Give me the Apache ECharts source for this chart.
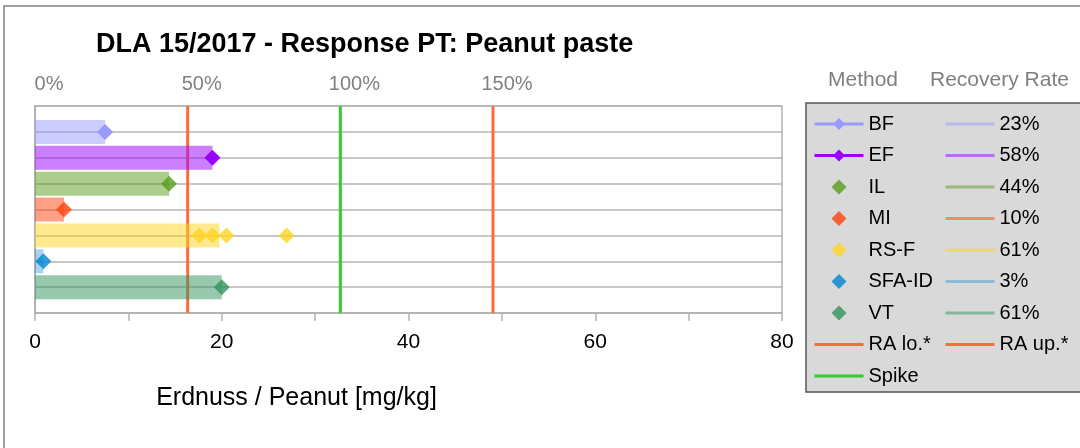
<!DOCTYPE html>
<html>
    <head>
        <meta charset="utf-8">
        <script src="https://cdn.jsdelivr.net/npm/echarts@6/dist/echarts.min.js"></script>
    </head>
    <body style="margin:0">
        <style>
            html, body, #main {
                width: 1080px;
                height: 448px;
                background: #fff;
            }
        </style>
        <div id="main"></div>
        <script>
            // methods, one row each (row 7 at the top)
            var methods = ['BF', 'EF', 'IL', 'MI', 'RS-F', 'SFA-ID', 'VT'];
            var rows = [7, 6, 5, 4, 3, 2, 1];
            // single results in mg/kg
            var results = [
                [7.5],
                [19.0],
                [14.35],
                [3.1],
                [17.6, 19.0, 20.5, 26.95],
                [0.9],
                [20.0]
            ];
            // recovery bar length (mg/kg) and its label
            var recoveryValues = [7.5, 19.0, 14.35, 3.1, 19.75, 0.9, 20.0];
            var recoveryLabels = ['23%', '58%', '44%', '10%', '61%', '3%', '61% '];
            var spike = 32.7;
            var raLo = 16.35;
            var raUp = 49.05;
            var pctTicks = [0, 50, 100, 150];
            var xTicks = [0, 20, 40, 60, 80];

            var markColors = ['#9999ff', '#9900ff', '#579d1c', '#ff420e', '#ffd320', '#0084d1', '#31935d'];
            var barColors = ['rgba(153,153,255,0.5)', 'rgba(153,0,255,0.5)', 'rgba(87,157,28,0.5)',
                'rgba(255,66,14,0.5)', 'rgba(255,211,32,0.5)', 'rgba(0,132,209,0.35)', 'rgba(49,147,93,0.5)'];
            var font = 'Liberation Sans';

            var chart = echarts.init(document.getElementById('main'));

            var series = [];

            // recovery bars, drawn as thick lines from 0
            methods.forEach(function (m, i) {
                series.push({
                    name: recoveryLabels[i],
                    type: 'line',
                    xAxisIndex: 0,
                    symbol: 'none',
                    z: 3,
                    lineStyle: { width: 24, color: barColors[i], cap: 'butt' },
                    itemStyle: { color: barColors[i] },
                    data: [[0, rows[i]], [recoveryValues[i], rows[i]]]
                });
            });

            // single results
            methods.forEach(function (m, i) {
                series.push({
                    name: m,
                    type: i < 2 ? 'line' : 'scatter',
                    xAxisIndex: 0,
                    symbol: 'diamond',
                    symbolSize: 16,
                    z: 5,
                    itemStyle: { color: markColors[i] },
                    lineStyle: { color: markColors[i], width: 3 },
                    data: results[i].map(function (v) { return [v, rows[i]]; })
                });
            });

            // reference lines
            [['RA lo.*', raLo, '#ff6a3d'], ['RA up.*', raUp, '#ff6a3d'], ['Spike', spike, '#33cc33']].forEach(function (r) {
                series.push({
                    name: r[0],
                    type: 'line',
                    xAxisIndex: 0,
                    symbol: 'none',
                    z: 2,
                    lineStyle: { width: 3, color: r[2] },
                    itemStyle: { color: r[2] },
                    data: [[r[1], 0], [r[1], 8]]
                });
            });

            // legend entries that are plain lines get no symbol
            function lineOnly(name) {
                return { name: name, itemStyle: { opacity: 0 } };
            }
            // small square diamond in the middle of the 49x15 icon box
            var diamondIcon = 'path://M0,0M49,15M24.5,0L32,7.5L24.5,15L17,7.5Z';
            function diamondOnly(name) {
                return { name: name, icon: diamondIcon };
            }

            var legendBase = {
                orient: 'vertical',
                top: 114,
                padding: 0,
                itemWidth: 49,
                itemHeight: 15,
                itemGap: 11.5,
                selectedMode: false,
                lineStyle: { width: 3 },
                textStyle: { fontFamily: font, fontSize: 20, lineHeight: 20, color: '#000' },
                formatter: function (n) { return n.trim(); }
            };

            chart.setOption({
                animation: false,
                title: [{
                    text: 'DLA 15/2017 - Response PT: Peanut paste',
                    left: 96,
                    top: 31,
                    padding: 0,
                    textStyle: { fontFamily: font, fontSize: 27, fontWeight: 'bold', color: '#000' }
                }, {
                    text: 'Method',
                    left: 828,
                    top: 70,
                    padding: 0,
                    textStyle: { fontFamily: font, fontSize: 21, fontWeight: 'normal', color: '#7f7f7f' }
                }, {
                    text: 'Recovery Rate',
                    left: 930,
                    top: 70,
                    padding: 0,
                    textStyle: { fontFamily: font, fontSize: 21, fontWeight: 'normal', color: '#7f7f7f' }
                }],
                graphic: [{
                    type: 'rect',
                    z: -10,
                    shape: { x: 4, y: 6, width: 1100, height: 500 },
                    style: { fill: '#fff', stroke: '#808080', lineWidth: 1.5 }
                }, {
                    type: 'rect',
                    z: -5,
                    shape: { x: 806, y: 103, width: 300, height: 289 },
                    style: { fill: '#d9d9d9', stroke: '#555', lineWidth: 1.5 }
                }],
                legend: [
                    Object.assign({}, legendBase, {
                        left: 813,
                        data: methods.slice(0, 2)
                            .concat(methods.slice(2).map(diamondOnly))
                            .concat([lineOnly('RA lo.*'), lineOnly('Spike')])
                    }),
                    Object.assign({}, legendBase, {
                        left: 944,
                        data: recoveryLabels.map(lineOnly).concat([lineOnly('RA up.*')])
                    })
                ],
                grid: {
                    left: 35,
                    right: 298,
                    top: 106,
                    bottom: 135,
                    show: true,
                    borderColor: '#b3b3b3',
                    borderWidth: 1.5
                },
                xAxis: [{
                    type: 'value',
                    position: 'bottom',
                    min: 0,
                    max: 80,
                    interval: 10,
                    name: 'Erdnuss / Peanut [mg/kg]',
                    nameLocation: 'middle',
                    nameGap: 73,
                    nameTextStyle: { fontFamily: font, fontSize: 25, color: '#000', padding: [0, 224, 0, 0] },
                    axisLine: { lineStyle: { color: '#b3b3b3', width: 2 } },
                    axisTick: { show: true, length: 8, lineStyle: { color: '#b3b3b3', width: 1.5 } },
                    splitLine: { show: false },
                    axisLabel: {
                        margin: 19,
                        fontFamily: font,
                        fontSize: 21,
                        color: '#000',
                        formatter: function (v) { return xTicks.indexOf(v) >= 0 ? String(v) : ''; }
                    }
                }, {
                    type: 'value',
                    position: 'top',
                    min: 0,
                    max: 80 / spike * 100,
                    interval: 50,
                    axisLine: { show: false },
                    axisTick: { show: false },
                    splitLine: { show: false },
                    axisLabel: {
                        margin: 12,
                        showMaxLabel: false,
                        fontFamily: font,
                        fontSize: 20,
                        color: '#808080',
                        padding: [0, 0, 0, 28],
                        formatter: function (v) { return pctTicks.indexOf(v) >= 0 ? v + '%' : ''; }
                    }
                }],
                yAxis: {
                    type: 'value',
                    min: 0,
                    max: 8,
                    interval: 1,
                    axisLine: { show: true, lineStyle: { color: '#b3b3b3', width: 2 } },
                    axisTick: { show: false },
                    axisLabel: { show: false },
                    splitLine: { show: true, lineStyle: { color: '#b3b3b3', width: 1.5 } }
                },
                series: series
            });
        </script>
    </body>
</html>
